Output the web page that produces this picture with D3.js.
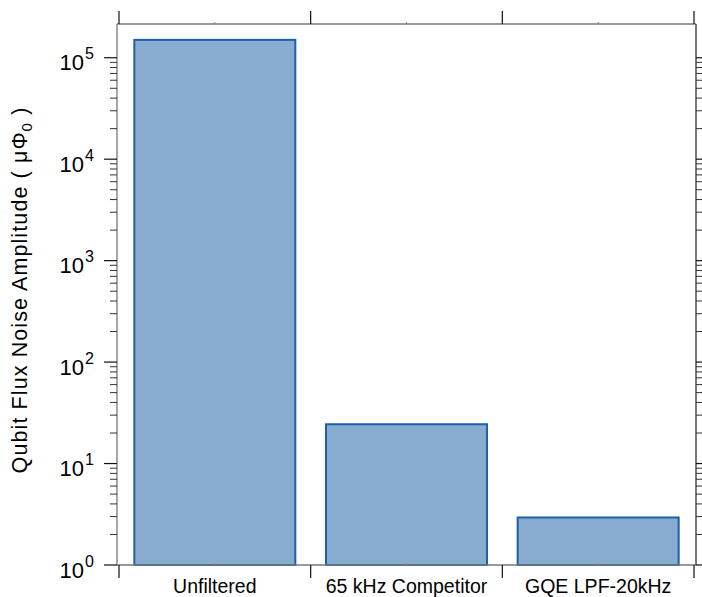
<!DOCTYPE html>
<html>
<head>
<meta charset="utf-8">
<script src="https://cdn.jsdelivr.net/npm/d3@7"></script>
<style>
  body { margin: 0; background: #fff; }
  text { font-family: "Liberation Sans", Arial, sans-serif; fill: #000; }
</style>
</head>
<body>
<div id="chart"></div>
<script>
var categories = ["Unfiltered", "65 kHz Competitor", "GQE LPF-20kHz"]
var noise = [150000, 24.4, 2.94]
var decades = [0, 1, 2, 3, 4, 5]

var width = 702, height = 597
var plotLeft = 117, plotRight = 696, plotTop = 24, plotBottom = 565

var svg = d3.select("#chart").append("svg")
  .attr("width", width)
  .attr("height", height)

var x = d3.scaleBand()
  .domain(categories)
  .range([plotLeft + 2, plotRight - 2])
  .paddingInner(0.16)
  .paddingOuter(0.08)

var y = d3.scaleLog()
  .domain([1, 2.15e5])
  .range([plotBottom, plotTop])

// bars
svg.selectAll(".bar")
  .data(categories)
  .enter()
  .append("rect")
  .attr("class", "bar")
  .attr("x", function (d) { return x(d) })
  .attr("width", x.bandwidth())
  .attr("y", function (d, i) { return y(noise[i]) })
  .attr("height", function (d, i) { return y(1) - y(noise[i]) })
  .attr("fill", "#88acd0")
  .attr("stroke", "#1f5fa9")
  .attr("stroke-width", 2)

// frame
svg.append("line").attr("x1", plotLeft).attr("x2", plotRight).attr("y1", plotTop).attr("y2", plotTop)
  .attr("stroke", "#777").attr("stroke-width", 1.3)
svg.append("line").attr("x1", plotLeft).attr("x2", plotRight).attr("y1", plotBottom).attr("y2", plotBottom)
  .attr("stroke", "#777").attr("stroke-width", 1.3)
svg.append("line").attr("x1", plotLeft).attr("x2", plotLeft).attr("y1", plotTop).attr("y2", plotBottom)
  .attr("stroke", "#777").attr("stroke-width", 1.3)
svg.append("line").attr("x1", plotRight).attr("x2", plotRight).attr("y1", plotTop).attr("y2", plotBottom)
  .attr("stroke", "#333").attr("stroke-width", 1.3)

// category boundary ticks (top + bottom) and small center ticks
var half = x.step() * x.paddingInner() / 2
var bounds = categories.map(function (c) { return x(c) - half })
bounds.push(x(categories[categories.length - 1]) + x.bandwidth() + half)

svg.selectAll(".ctick")
  .data(bounds)
  .enter()
  .append("g")
  .each(function (b) {
    var g = d3.select(this)
    g.append("line").attr("x1", b).attr("x2", b).attr("y1", plotTop).attr("y2", plotTop - 13)
      .attr("stroke", "#111").attr("stroke-width", 1.2)
    g.append("line").attr("x1", b).attr("x2", b).attr("y1", plotBottom).attr("y2", plotBottom + 13)
      .attr("stroke", "#111").attr("stroke-width", 1.2)
  })

svg.selectAll(".mtick")
  .data(categories)
  .enter()
  .append("g")
  .each(function (c) {
    var cx = x(c) + x.bandwidth() / 2
    var g = d3.select(this)
    g.append("line").attr("x1", cx).attr("x2", cx).attr("y1", plotTop).attr("y2", plotTop - 2)
      .attr("stroke", "#888").attr("stroke-width", 1)
    g.append("line").attr("x1", cx).attr("x2", cx).attr("y1", plotBottom).attr("y2", plotBottom - 2)
      .attr("stroke", "#888").attr("stroke-width", 1)
  })

// category labels
svg.selectAll(".clabel")
  .data(categories)
  .enter()
  .append("text")
  .attr("x", function (d) { return x(d) + x.bandwidth() / 2 })
  .attr("y", 593)
  .attr("text-anchor", "middle")
  .style("font-size", "19.5px")
  .text(function (d) { return d })

// log axis ticks, left and right
var minors = []
decades.slice(0, -1).forEach(function (d) {
  for (var m = 2; m <= 9; m++) minors.push(m * Math.pow(10, d))
})
var majors = decades.map(function (d) { return Math.pow(10, d) })

svg.selectAll(".ymaj")
  .data(majors)
  .enter()
  .append("g")
  .each(function (v) {
    var g = d3.select(this)
    g.append("line").attr("x1", plotLeft - 13).attr("x2", plotLeft).attr("y1", y(v)).attr("y2", y(v))
      .attr("stroke", "#111").attr("stroke-width", 1.2)
    g.append("line").attr("x1", plotRight).attr("x2", plotRight + 13).attr("y1", y(v)).attr("y2", y(v))
      .attr("stroke", "#111").attr("stroke-width", 1.2)
  })

svg.selectAll(".ymin")
  .data(minors)
  .enter()
  .append("g")
  .each(function (v) {
    var g = d3.select(this)
    g.append("line").attr("x1", plotLeft - 7).attr("x2", plotLeft).attr("y1", y(v)).attr("y2", y(v))
      .attr("stroke", "#333").attr("stroke-width", 1)
    g.append("line").attr("x1", plotRight).attr("x2", plotRight + 7).attr("y1", y(v)).attr("y2", y(v))
      .attr("stroke", "#333").attr("stroke-width", 1)
  })

var ylab = svg.selectAll(".ylabel")
  .data(decades)
  .enter()
  .append("text")
  .attr("x", 94)
  .attr("y", function (d) { return y(Math.pow(10, d)) + 12.5 })
  .attr("text-anchor", "end")

ylab.append("tspan")
  .style("font-size", "22px")
  .text("10")
ylab.append("tspan")
  .attr("dx", 1)
  .attr("dy", -11)
  .style("font-size", "16px")
  .text(function (d) { return d })

// axis title
var title = svg.append("text")
  .attr("transform", "translate(27,290) rotate(-90)")
  .attr("text-anchor", "middle")
  .style("font-size", "21.5px")
  .style("letter-spacing", "1.1px")
title.append("tspan").text("Qubit Flux Noise Amplitude ( \u03bc\u03a6")
title.append("tspan").attr("dy", 5).style("font-size", "15px").text("0")
title.append("tspan").attr("dy", -5).text(" )")
</script>
</body>
</html>
